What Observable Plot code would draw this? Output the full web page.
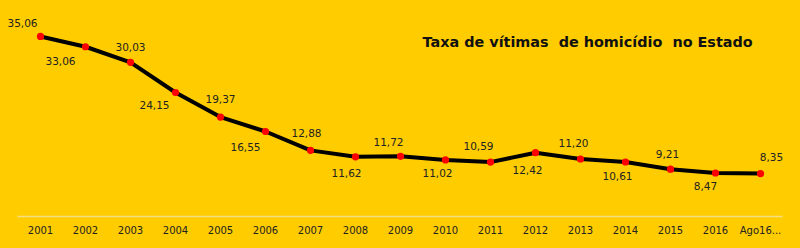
<!DOCTYPE html>
<html>
<head>
<meta charset="utf-8">
<script src="https://cdn.jsdelivr.net/npm/d3@7"></script>
<script src="https://cdn.jsdelivr.net/npm/@observablehq/plot@0.6"></script>
<style>
  html, body { margin: 0; padding: 0; background: #FFCC00; }
  #chart svg { display: block; }
</style>
</head>
<body>
<div id="chart"></div>
<script>
const categories = ["2001","2002","2003","2004","2005","2006","2007","2008","2009","2010","2011","2012","2013","2014","2015","2016","Ago16..."];
const values = [35.06, 33.06, 30.03, 24.15, 19.37, 16.55, 12.88, 11.62, 11.72, 11.02, 10.59, 12.42, 11.20, 10.61, 9.21, 8.47, 8.35];
const title = "Taxa de vítimas\u00a0 de homicídio\u00a0 no Estado";

// label placement (layout only): [dx, dy] relative to each point
const labelOffsets = [
  [-18, -13], [-25, 15], [0, -15], [-21, 13], [0, -17], [-20, 16], [-4, -17], [-9, 17], [-12, -14],
  [-8, 14], [-12, -15], [-8, 18], [-7, -15], [-8, 15], [-3, -15], [-10, 14], [11, -16]
];

const data = categories.map((c, i) => ({cat: c, value: values[i]}));
const fmt = v => v.toFixed(2).replace(".", ",");

const labelMarks = data.map((d, i) => Plot.text([d], {
  x: "cat", y: "value", text: d => fmt(d.value),
  dx: labelOffsets[i][0], dy: labelOffsets[i][1],
  fill: "#222", fontSize: 10.5
}));

const chart = Plot.plot({
  width: 800,
  height: 248,
  marginLeft: 17.5,
  marginRight: 17.5,
  marginTop: 10.6,
  marginBottom: 32,
  style: {background: "#FFCC00", fontFamily: "DejaVu Sans, Verdana, sans-serif", color: "#222"},
  x: {type: "point", domain: categories, padding: 0.5, label: null},
  y: {domain: [0, 40], axis: null},
  marks: [
    Plot.ruleY([0], {stroke: "#f3dd85", strokeWidth: 1.5}),
    Plot.axisX({tickSize: 0, tickPadding: 10, fontSize: 10, fill: "#222", label: null}),
    Plot.line(data, {x: "cat", y: "value", stroke: "black", strokeWidth: 4, strokeLinejoin: "round"}),
    Plot.dot(data, {x: "cat", y: "value", fill: "#ff0000", r: 3.6, stroke: "none"}),
    ...labelMarks,
    Plot.text([title], {frameAnchor: "top-left", dx: 404.5, dy: 31, textAnchor: "start", lineAnchor: "middle",
      fontWeight: "bold", fontSize: 14.4, fill: "#111", text: d => d})
  ]
});
document.getElementById("chart").appendChild(chart);
</script>
</body>
</html>
